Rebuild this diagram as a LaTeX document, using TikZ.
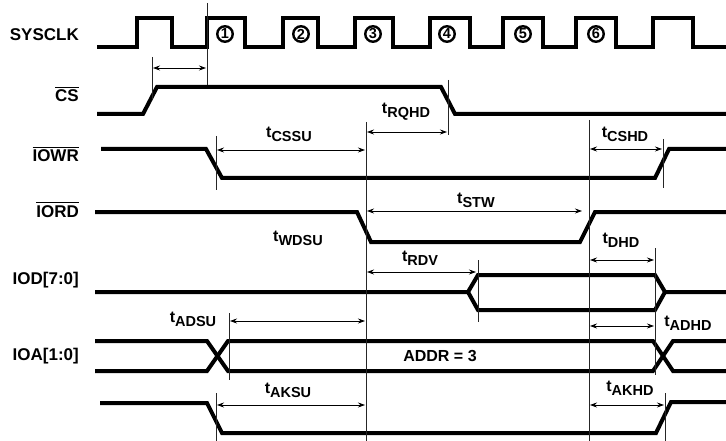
\documentclass[tikz,border=0pt]{standalone}
\usepackage{fontspec}
\setmainfont{Liberation Sans}
\usetikzlibrary{arrows.meta}
\newcommand\ovl[1]{\vbox{\hrule height 1.3pt\kern2pt\hbox{#1}}}
\newcommand\tsub[1]{t\raisebox{-4pt}{\fontsize{14.5}{15}\selectfont #1}}
\begin{document}
\begin{tikzpicture}[x=1pt,y=-1pt,
  sig/.style={line width=4pt, line join=miter},
  tickline/.style={line width=0.8pt, black!85},
  dim/.style={line width=0.8pt, {Stealth[length=7pt,width=5pt,inset=2.5pt]}-{Stealth[length=7pt,width=5pt,inset=2.5pt]}},
  lab/.style={font=\fontsize{17}{17}\selectfont\bfseries, anchor=base east, inner sep=0pt},
  tl/.style={font=\fontsize{16}{16}\selectfont\bfseries, inner sep=0pt},
  cnum/.style={circle, draw, line width=2.4pt, minimum size=15.5pt, inner sep=0pt, font=\fontsize{14.5}{14.5}\selectfont\bfseries}]
\useasboundingbox (0,0) rectangle (726,441);

% signal names
\node[lab] (Lclk) at (79,41) {SYSCLK};
\node[lab] (Lcs) at (79,102) {\ovl{CS}};
\node[lab] (Lwr) at (79,162) {\ovl{IOWR}};
\node[lab] (Lrd) at (79,217) {\ovl{IORD}};
\node[lab] (Ldat) at (79,284) {IOD[7:0]};
\node[lab] (Ladr) at (79,360) {IOA[1:0]};

% waveforms
\draw[sig] (97,47) -- (137,47) -- (137,18) -- (172,18) -- (172,47) -- (207,47) -- (207,18) -- (245,18) -- (245,47)
  -- (283,47) -- (283,18) -- (318,18) -- (318,47) -- (355,47) -- (355,18) -- (393,18) -- (393,47)
  -- (430,47) -- (430,18) -- (470,18) -- (470,47) -- (503,47) -- (503,18) -- (543,18) -- (543,47)
  -- (576,47) -- (576,18) -- (616,18) -- (616,47) -- (653,47) -- (653,18) -- (693,18) -- (693,47) -- (726,47);
\draw[sig] (97,114) -- (143,114) -- (157,87) -- (441,87) -- (455,114) -- (726,114);
\draw[sig] (101,149) -- (206,149) -- (222,178) -- (655,178) -- (669,149) -- (726,149);
\draw[sig] (95,212) -- (357,212) -- (371,242) -- (580,242) -- (595,212) -- (726,212);
\draw[sig] (95,292) -- (468,292) -- (478,275) -- (655,275) -- (665,292) -- (726,292);
\draw[sig] (468,292) -- (478,310) -- (655,310) -- (665,292);
\draw[sig] (95,341) -- (207,341) -- (228,371) -- (653,371) -- (673,341) -- (726,341);
\draw[sig] (95,371) -- (207,371) -- (228,341) -- (653,341) -- (673,371) -- (726,371);
\draw[sig] (100,403) -- (207,403) -- (222,433) -- (656,433) -- (671,402) -- (726,402);

% clock numbers
\node[cnum] (c1) at (225,34) {1};
\node[cnum] (c2) at (301,34) {2};
\node[cnum] (c3) at (373,34) {3};
\node[cnum] (c4) at (447,34) {4};
\node[cnum] (c5) at (523,34) {5};
\node[cnum] (c6) at (596,34) {6};

% reference lines
\draw[tickline] (207,3) -- (207,85);
\draw[tickline] (152,57) -- (152,100);
\draw[tickline] (366,122) -- (366,441);
\draw[tickline] (448,80) -- (448,135);
\draw[tickline] (216,136) -- (216,190);
\draw[tickline] (589,120) -- (589,441);
\draw[tickline] (663,139) -- (663,188);
\draw[tickline] (478,260) -- (478,322);
\draw[tickline] (655,248) -- (655,375);
\draw[tickline] (229,313) -- (229,380);
\draw[tickline] (216,393) -- (216,441);
\draw[tickline] (665,393) -- (665,441);

% dimension arrows
\coordinate (a1) at (153,68);  \coordinate (b1) at (206,68);
\coordinate (a2) at (217,150); \coordinate (b2) at (365,150);
\coordinate (a3) at (367,132); \coordinate (b3) at (447,132);
\coordinate (a4) at (590,149); \coordinate (b4) at (662,149);
\coordinate (a5) at (367,211); \coordinate (b5) at (582,211);
\coordinate (a6) at (367,272); \coordinate (b6) at (476,272);
\coordinate (a7) at (590,260); \coordinate (b7) at (654,260);
\coordinate (a8) at (230,321); \coordinate (b8) at (365,321);
\coordinate (a9) at (590,326); \coordinate (b9) at (654,326);
\coordinate (a10) at (217,405); \coordinate (b10) at (365,405);
\coordinate (a11) at (590,405); \coordinate (b11) at (664,405);
\foreach \i in {1,...,11} \draw[dim] (a\i) -- (b\i);

% timing labels
\node[tl] (tcssu) at (289,134) {\tsub{CSSU}};
\node[tl] (trqhd) at (406,112) {\tsub{RQHD}};
\node[tl] (tcshd) at (625,134) {\tsub{CSHD}};
\node[tl] (tstw) at (476,200) {\tsub{STW}};
\node[tl] (twdsu) at (298,238) {\tsub{WDSU}};
\node[tl] (trdv) at (420,258) {\tsub{RDV}};
\node[tl] (tdhd) at (621,240) {\tsub{DHD}};
\node[tl] (tadsu) at (193,319) {\tsub{ADSU}};
\node[tl] (tadhd) at (688,323) {\tsub{ADHD}};
\node[tl] (taksu) at (288,390) {\tsub{AKSU}};
\node[tl] (takhd) at (630,388) {\tsub{AKHD}};
\node[tl] (addr) at (440,356) {ADDR = 3};
\end{tikzpicture}
\end{document}
